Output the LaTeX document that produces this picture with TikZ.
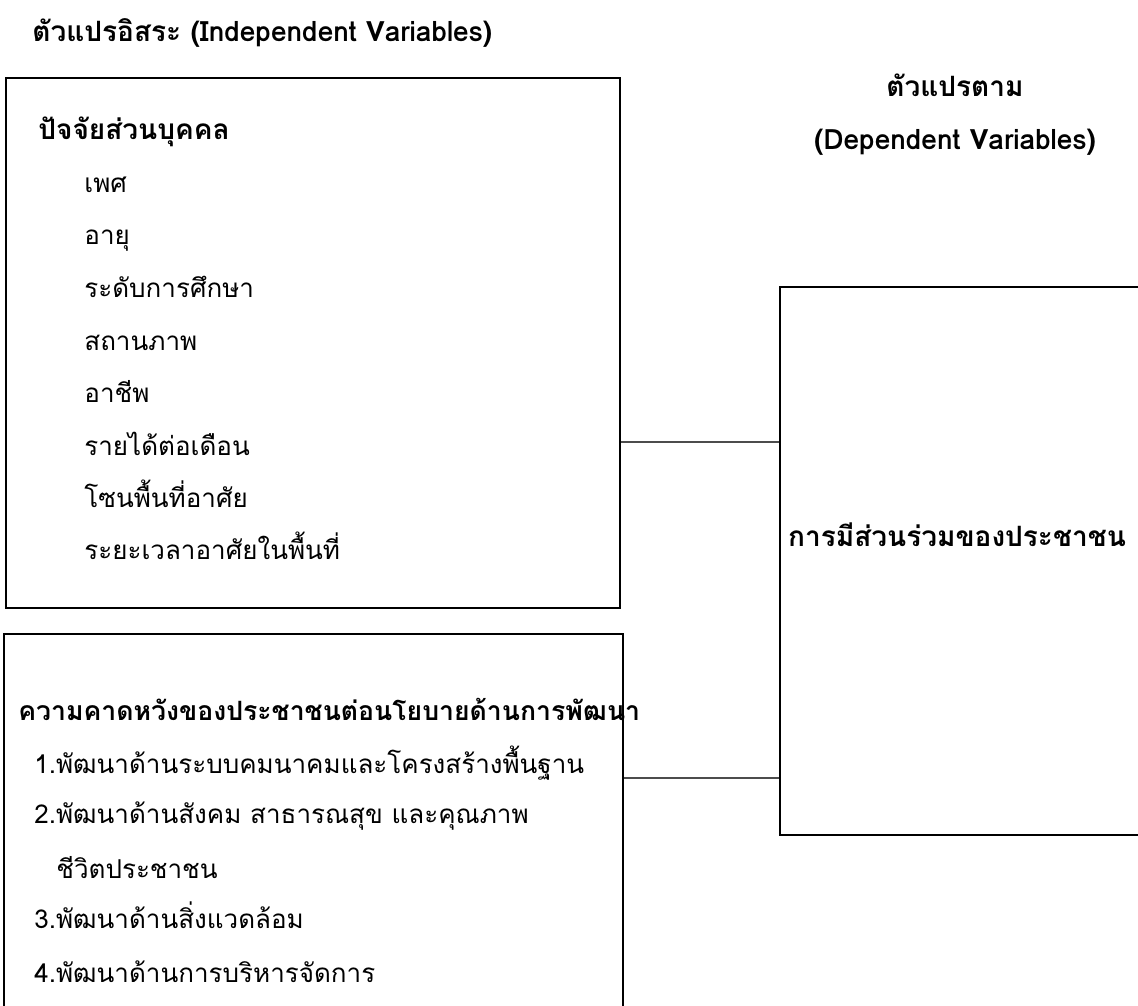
\documentclass[tikz,border=0pt]{standalone}
\usepackage{fontspec}
\newfontfamily\thaifont[Script=Thai]{Loma}
\usetikzlibrary{positioning}
\tikzset{
  varbox/.style={draw, line width=1pt, inner sep=0pt, anchor=north west},
  link/.style={line width=.75pt, draw=black!70},
  item/.style={anchor=base west, inner sep=0pt, font=\thaifont\fontsize{13}{15}\selectfont},
  head/.style={anchor=base west, inner sep=0pt, font=\thaifont\bfseries\fontsize{14}{16}\selectfont},
  mid/.style={anchor=base, inner sep=0pt, font=\thaifont\bfseries\fontsize{14}{16}\selectfont},
}
\begin{document}
\begin{tikzpicture}[x=0.5pt, y=-0.5pt]
	% page frame
	\clip (0,0) rectangle (1138,1005);
	\fill[white] (0,0) rectangle (1138,1005);

	% boxes
	\node[varbox, minimum width=307pt, minimum height=265pt] (pers) at (5,77) {};
	\node[varbox, minimum width=309.5pt, minimum height=215pt] (expe) at (3,633) {};
	\node[varbox, minimum width=200pt, minimum height=274pt] (dep) at (779,286) {};

	% headings
	\node[head] (indep) at (32,42) {ตัวแปรอิสระ (Independent Variables)};
	\node[mid] (deptitle) at (955,97) {ตัวแปรตาม};
	\node[mid] (depsub) at (955,150) {(Dependent Variables)};

	% personal factors
	\node[head] (pershead) at (38,140) {ปัจจัยส่วนบุคคล};
	\node[item] (p1) at (84,193) {เพศ};
	\node[item] (p2) at (84,245) {อายุ};
	\node[item] (p3) at (84,298) {ระดับการศึกษา};
	\node[item] (p4) at (84,350) {สถานภาพ};
	\node[item] (p5) at (84,402) {อาชีพ};
	\node[item] (p6) at (84,455) {รายได้ต่อเดือน};
	\node[item] (p7) at (84,507) {โซนพื้นที่อาศัย};
	\node[item] (p8) at (84,559) {ระยะเวลาอาศัยในพื้นที่};

	% expectations
	\node[head, font=\thaifont\bfseries\fontsize{13.3}{16}\selectfont] (expehead) at (18,720) {ความคาดหวังของประชาชนต่อนโยบายด้านการพัฒนา};
	\node[item] (e1) at (34,773) {1.พัฒนาด้านระบบคมนาคมและโครงสร้างพื้นฐาน};
	\node[item] (e2) at (34,823) {2.พัฒนาด้านสังคม สาธารณสุข และคุณภาพ};
	\node[item] (e2b) at (56,878) {ชีวิตประชาชน};
	\node[item] (e3) at (34,928) {3.พัฒนาด้านสิ่งแวดล้อม};
	\node[item] (e4) at (34,982) {4.พัฒนาด้านการบริหารจัดการ};

	% dependent variable
	\node[mid] (deptext) at (957,546) {การมีส่วนร่วมของประชาชน};

	% connectors
	\coordinate (hi) at (0,442);
	\coordinate (lo) at (0,778);
	\draw[link] (pers.east |- hi) -- (dep.west |- hi);
	\draw[link] (expe.east |- lo) -- (dep.west |- lo);
\end{tikzpicture}
\end{document}
